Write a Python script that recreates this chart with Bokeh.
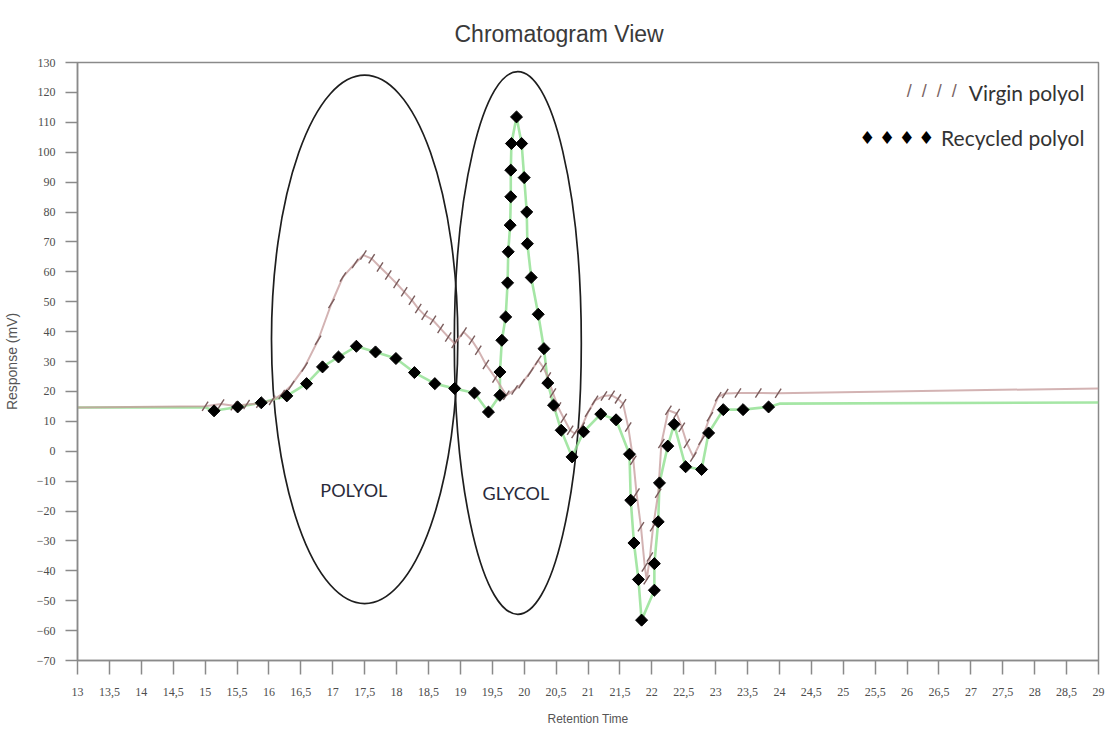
import math
from bokeh.plotting import figure
from bokeh.models import ColumnDataSource, FixedTicker, Label, Range1d
from bokeh.core.properties import value
from bokeh.embed import file_html
from bokeh.resources import INLINE

# ---------------- data ----------------
chart_title = "Chromatogram View"
x_ticks = [13, 13.5, 14, 14.5, 15, 15.5, 16, 16.5, 17, 17.5, 18, 18.5, 19, 19.5, 20, 20.5,
           21, 21.5, 22, 22.5, 23, 23.5, 24, 24.5, 25, 25.5, 26, 26.5, 27, 27.5, 28, 28.5, 29]
x_tick_labels = ["13", "13,5", "14", "14,5", "15", "15,5", "16", "16,5", "17", "17,5", "18", "18,5",
                 "19", "19,5", "20", "20,5", "21", "21,5", "22", "22,5", "23", "23,5", "24", "24,5",
                 "25", "25,5", "26", "26,5", "27", "27,5", "28", "28,5", "29"]
y_ticks = [-70, -60, -50, -40, -30, -20, -10, 0, 10, 20, 30, 40, 50, 60, 70, 80, 90, 100, 110, 120, 130]

# Virgin polyol: sampled points (with slash markers)
virgin_x = [15.0, 15.25, 15.45, 15.65, 15.85, 16.05, 16.2, 16.35, 16.56, 16.77,
            16.98, 17.16, 17.35, 17.48, 17.61, 17.74, 17.87, 18.0, 18.12, 18.24,
            18.34, 18.44, 18.57, 18.69, 18.81, 18.91, 19.05, 19.18, 19.28, 19.4,
            19.55, 19.72, 19.85, 19.96, 20.1, 20.22, 20.3, 20.37, 20.45, 20.53,
            20.62, 20.72, 20.79, 20.9, 21.0, 21.11, 21.25, 21.37, 21.47, 21.55,
            21.63, 21.71, 21.76, 21.83, 21.89, 21.92, 21.97, 22.02, 22.1, 22.15,
            22.26, 22.39, 22.47, 22.55, 22.65, 22.78, 22.91, 23.04, 23.15, 23.35,
            23.67, 23.98]
virgin_y = [15.0, 15.8, 15.2, 15.6, 16.0, 17.0, 19.0, 22.0, 28.2, 37.1,
            49.4, 58.3, 62.8, 65.6, 64.4, 61.6, 58.9, 56.1, 53.3, 50.5,
            47.7, 45.5, 43.8, 41.0, 38.2, 36.0, 39.9, 37.1, 33.8, 29.0,
            24.5, 18.7, 20.5, 22.6, 26.5, 30.4, 28.0, 24.8, 19.5, 14.8,
            11.0, 7.0, 5.9, 8.1, 13.0, 17.0, 18.5, 18.7, 17.5, 15.9,
            8.1, -3.0, -14.0, -25.3, -38.7, -43.0, -35.4, -25.3, -14.1, 2.6,
            13.7, 12.6, 8.0, 2.6, -1.9, 3.7, 11.5, 18.2, 19.3, 19.5,
            19.5, 19.4]
# baseline parts of the virgin trace (no markers)
virgin_start_x = [13.0]
virgin_start_y = [14.6]
virgin_end_x = [29.0]
virgin_end_y = [21.0]

# Recycled polyol: sampled points (diamond markers)
recycled_x = [15.14, 15.51, 15.88, 16.28, 16.59, 16.84, 17.09, 17.37, 17.67, 17.99,
              18.28, 18.60, 18.91, 19.22, 19.44, 19.62, 19.62, 19.65, 19.71, 19.74,
              19.75, 19.78, 19.79, 19.79, 19.80, 19.88, 19.96, 20.00, 20.04, 20.05,
              20.11, 20.22, 20.31, 20.37, 20.46, 20.58, 20.75, 20.93, 21.20, 21.44,
              21.65, 21.67, 21.72, 21.79, 21.84, 22.04, 22.04, 22.10, 22.12, 22.25,
              22.35, 22.53, 22.78, 22.89, 23.12, 23.43, 23.83]
recycled_y = [13.5, 14.8, 16.2, 18.5, 22.6, 28.2, 31.5, 35.1, 33.2, 31.0,
              26.3, 22.6, 21.0, 19.5, 13.1, 18.7, 26.5, 37.1, 44.9, 56.3,
              66.7, 75.6, 85.1, 94.0, 102.9, 111.8, 102.9, 91.5, 80.0, 69.4,
              58.1, 45.8, 34.3, 22.8, 15.4, 7.0, -1.9, 6.5, 12.4, 10.5,
              -1.0, -16.4, -30.7, -42.9, -56.5, -46.5, -37.6, -23.6, -10.6, 1.7,
              9.0, -5.2, -6.1, 6.1, 13.9, 13.9, 14.8]
recycled_start_x = [13.0, 15.0]
recycled_start_y = [14.6, 14.7]
recycled_end_x = [24.0, 29.0]
recycled_end_y = [15.9, 16.3]

# Highlight ellipses
region_labels = ["POLYOL", "GLYCOL"]
region_x = [17.5, 19.9]
region_y = [37.4, 36.2]
region_w = [2.92, 1.99]
region_h = [176.7, 181.5]
region_label_x = [17.33, 19.87]
region_label_y = [-13.0, -14.0]

series_names = ["Virgin polyol", "Recycled polyol"]

# ---------------- figure ----------------
p = figure(width=1110, height=729, x_range=Range1d(13, 29), y_range=Range1d(-70, 130),
           output_backend="svg", toolbar_location=None,
           min_border_left=76, min_border_right=12, min_border_top=62, min_border_bottom=69,
           title=chart_title)
p.background_fill_color = "white"
p.border_fill_color = "white"
p.xgrid.visible = False
p.ygrid.visible = False
p.outline_line_color = "#8a8a8a"
p.outline_line_width = 1.5

p.title.text_font = "Liberation Sans"
p.title.text_font_size = "23px"
p.title.text_font_style = "normal"
p.title.text_color = "#3a3a3a"
p.title.align = "left"
p.title.offset = 377
p.title.standoff = 31

tick_font = "Liberation Sans Narrow"
for ax in (p.xaxis[0], p.yaxis[0]):
    ax.axis_line_color = "#8a8a8a"
    ax.axis_line_width = 1.5
    ax.major_tick_line_color = "#8a8a8a"
    ax.major_tick_line_width = 1.5
    ax.major_tick_in = 0
    ax.minor_tick_in = 0
    ax.minor_tick_out = 0
    ax.major_label_text_font = tick_font
    ax.major_label_text_font_size = "12px"
    ax.major_label_text_color = "#4d4d4d"
    ax.axis_label_text_font = "Liberation Sans"
    ax.axis_label_text_font_style = "normal"
    ax.axis_label_text_color = "#555555"

p.xaxis.ticker = FixedTicker(ticks=x_ticks)
p.xaxis.major_label_overrides = dict(zip(x_ticks, x_tick_labels))
p.xaxis.major_tick_out = 14
p.xaxis.major_label_standoff = 13
p.xaxis.axis_label = "Retention Time"
p.xaxis.axis_label_text_font_size = "12px"
p.xaxis.axis_label_standoff = 13

p.yaxis.ticker = FixedTicker(ticks=y_ticks)
p.yaxis.major_tick_out = 12
p.yaxis.major_label_standoff = 10
p.yaxis.axis_label = "Response (mV)"
p.yaxis.axis_label_text_font_size = "14px"
p.yaxis.axis_label_standoff = 14

# ellipses
ell_src = ColumnDataSource(dict(x=region_x, y=region_y, w=region_w, h=region_h))
p.ellipse(x="x", y="y", width="w", height="h", source=ell_src,
          fill_alpha=0, line_color="#1e1e1e", line_width=1.7)

# lines
virgin_line = ColumnDataSource(dict(x=virgin_start_x + virgin_x + virgin_end_x,
                                    y=virgin_start_y + virgin_y + virgin_end_y))
recycled_line = ColumnDataSource(dict(x=recycled_start_x + recycled_x + recycled_end_x,
                                      y=recycled_start_y + recycled_y + recycled_end_y))
p.line("x", "y", source=recycled_line, line_color="#8fe08f", line_width=2.6, line_alpha=0.8)
p.line("x", "y", source=virgin_line, line_color="#c49a9a", line_width=2.0, line_alpha=0.75)

# markers
p.scatter(virgin_x, virgin_y, marker="dash", size=11, angle=1.0,
          line_color="#7a5c5c", line_width=1.4)
p.scatter(recycled_x, recycled_y, marker="square", size=8.5, angle=math.pi / 4,
          fill_color="black", line_color="black")

# region labels
lab_src = ColumnDataSource(dict(x=region_label_x, y=region_label_y, t=region_labels))
p.text(x="x", y="y", text="t", source=lab_src, text_font=value("Lato"),
       text_font_size="18px", text_color="#2a2a3a", text_align="center",
       text_baseline="middle")

# legend (drawn as text, mimicking the "////" and diamond samples)
nb = "\u00a0"
p.add_layout(Label(x=28.78, y=120, text=series_names[0], text_font="Lato",
                   text_font_size="21px", text_color="#333333",
                   text_align="right", text_baseline="middle"))
p.add_layout(Label(x=28.78, y=105, text=series_names[1], text_font="Lato",
                   text_font_size="21px", text_color="#333333",
                   text_align="right", text_baseline="middle"))
p.add_layout(Label(x=26.78, y=120.5, text=("/" + nb * 2) * 3 + "/", text_font="Liberation Sans",
                   text_font_size="18px", text_color="#7a6464",
                   text_align="right", text_baseline="middle"))
p.add_layout(Label(x=26.43, y=105, text=("\u2666\u2009") * 3 + "\u2666", text_font="DejaVu Sans",
                   text_font_size="18px", text_color="#000000",
                   text_align="right", text_baseline="middle"))

open("out.html", "w").write(file_html(p, INLINE))
